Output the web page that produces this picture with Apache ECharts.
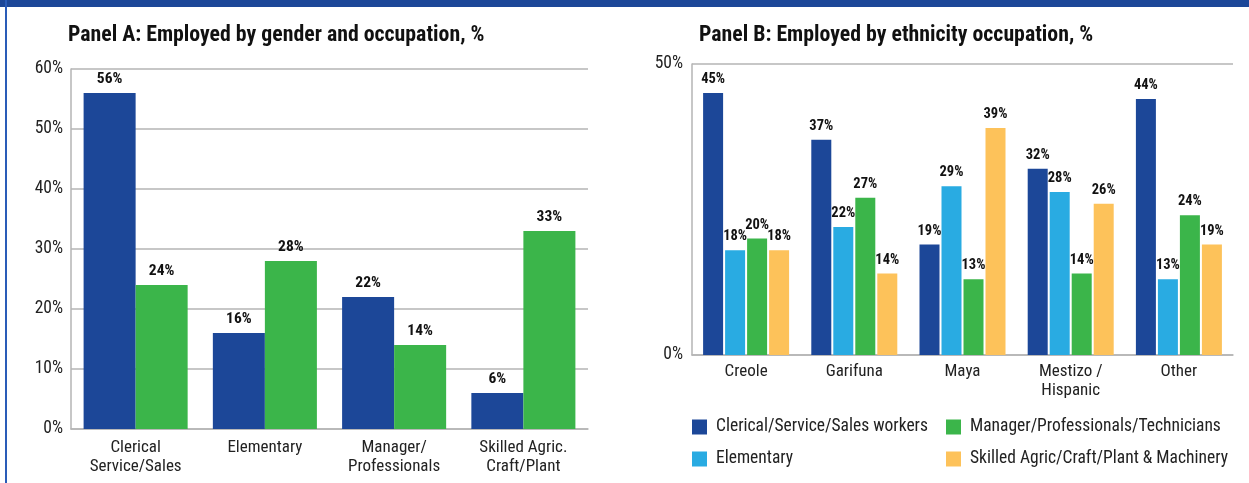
<!DOCTYPE html>
<html>
<head>
<meta charset="utf-8">
<script src="https://cdn.jsdelivr.net/npm/echarts@6/dist/echarts.min.js"></script>
<style>
  html, body { margin: 0; padding: 0; background: #fff; }
  #chart { width: 1249px; height: 483px; }
</style>
</head>
<body>
<div id="chart"></div>
<script>
// Panel A: employed by gender and occupation
const genderCategories = ['Clerical\nService/Sales', 'Elementary', 'Manager/\nProfessionals', 'Skilled Agric.\nCraft/Plant'];
const womenShare = [56, 16, 22, 6];
const menShare = [24, 28, 14, 33];
const genderTicks = [0, 10, 20, 30, 40, 50, 60];

// Panel B: employed by ethnicity and occupation
const ethnicCategories = ['Creole', 'Garifuna', 'Maya', 'Mestizo /\nHispanic', 'Other'];
const clericalShare = [45, 37, 19, 32, 44];
const elementaryShare = [18, 22, 29, 28, 13];
const managerShare = [20, 27, 13, 14, 24];
const skilledShare = [18, 14, 39, 26, 19];
const ethnicTicks = [0, 50];

const FONT = '"Liberation Sans Narrow", "Roboto Condensed", "Arial Narrow", sans-serif';
const C_DARK = '#1c4798';
const C_GREEN = '#3bb54a';
const C_LIGHT = '#29abe2';
const C_YELLOW = '#fdc25a';
const GRID_GREY = '#b5b5b5';

const valueLabel = (size) => ({
  show: true,
  position: 'top',
  distance: 6,
  formatter: '{c}%',
  fontFamily: FONT,
  fontWeight: 'bold',
  fontSize: size,
  color: '#111'
});

const legendText = { fontFamily: FONT, fontSize: 17.5, color: '#222', padding: [0, 0, 0, 4] };

const chart = echarts.init(document.getElementById('chart'), null, { renderer: 'canvas' });

chart.setOption({
  animation: false,
  backgroundColor: '#ffffff',
  textStyle: { fontFamily: FONT },
  title: [
    {
      text: 'Panel A: Employed by gender and occupation, %',
      left: 68, top: 25, padding: 0,
      textStyle: { fontFamily: FONT, fontWeight: 'bold', fontSize: 21.8, color: '#111' }
    },
    {
      text: 'Panel B: Employed by ethnicity occupation, %',
      left: 699, top: 25, padding: 0,
      textStyle: { fontFamily: FONT, fontWeight: 'bold', fontSize: 21.8, color: '#111' }
    }
  ],
  graphic: [
    { type: 'rect', shape: { x: 0, y: 0, width: 1249, height: 7 }, style: { fill: '#1c4798' }, silent: true },
    { type: 'rect', shape: { x: 5, y: 0, width: 2, height: 483 }, style: { fill: '#2a5cb8' }, silent: true }
  ],
  legend: [
    {
      data: ['Clerical/Service/Sales workers', 'Elementary'],
      orient: 'vertical',
      left: 692, top: 418, padding: 0,
      itemWidth: 15, itemHeight: 15, itemGap: 14,
      icon: 'rect',
      textStyle: legendText
    },
    {
      data: ['Manager/Professionals/Technicians', 'Skilled Agric/Craft/Plant & Machinery'],
      orient: 'vertical',
      left: 946, top: 418, padding: 0,
      itemWidth: 15, itemHeight: 15, itemGap: 14,
      icon: 'rect',
      textStyle: legendText
    }
  ],
  grid: [
    { left: 71, right: 1249 - 588, top: 69, bottom: 483 - 429, containLabel: false },
    { left: 692, right: 1249 - 1233, top: 64, bottom: 483 - 355, containLabel: false }
  ],
  xAxis: [
    {
      type: 'category', gridIndex: 0, data: genderCategories,
      axisLine: { show: true, lineStyle: { color: GRID_GREY, width: 1.5 } },
      axisTick: { show: false },
      axisLabel: { fontFamily: FONT, fontSize: 17, color: '#222', margin: 9, lineHeight: 19 }
    },
    {
      type: 'category', gridIndex: 1, data: ethnicCategories,
      axisLine: { show: true, lineStyle: { color: GRID_GREY, width: 1.5 } },
      axisTick: { show: false },
      axisLabel: { fontFamily: FONT, fontSize: 17, color: '#222', margin: 7, lineHeight: 19 }
    }
  ],
  yAxis: [
    {
      type: 'value', gridIndex: 0,
      min: genderTicks[0], max: genderTicks[genderTicks.length - 1], interval: genderTicks[1] - genderTicks[0],
      axisLine: { show: true, lineStyle: { color: GRID_GREY, width: 1.5 } },
      axisTick: { show: false },
      splitLine: { show: true, lineStyle: { color: GRID_GREY, width: 1.5 } },
      axisLabel: { fontFamily: FONT, fontSize: 17.5, color: '#222', margin: 8, formatter: '{value}%' }
    },
    {
      type: 'value', gridIndex: 1,
      min: ethnicTicks[0], max: ethnicTicks[ethnicTicks.length - 1], interval: ethnicTicks[1] - ethnicTicks[0],
      axisLine: { show: true, lineStyle: { color: GRID_GREY, width: 1.5 } },
      axisTick: { show: false },
      splitLine: { show: true, lineStyle: { color: GRID_GREY, width: 1.5 } },
      axisLabel: { fontFamily: FONT, fontSize: 17.5, color: '#222', margin: 9, formatter: '{value}%' }
    }
  ],
  series: [
    {
      name: 'Women', type: 'bar', xAxisIndex: 0, yAxisIndex: 0,
      data: womenShare, barGap: '0%', barCategoryGap: '19.5%',
      itemStyle: { color: C_DARK }, label: valueLabel(15.5)
    },
    {
      name: 'Men', type: 'bar', xAxisIndex: 0, yAxisIndex: 0,
      data: menShare, barGap: '0%', barCategoryGap: '19.5%',
      itemStyle: { color: C_GREEN }, label: valueLabel(15.5)
    },
    {
      name: 'Clerical/Service/Sales workers', type: 'bar', xAxisIndex: 1, yAxisIndex: 1,
      data: clericalShare, barWidth: 20, barGap: '10%',
      itemStyle: { color: C_DARK }, label: valueLabel(14.5)
    },
    {
      name: 'Elementary', type: 'bar', xAxisIndex: 1, yAxisIndex: 1,
      data: elementaryShare, barWidth: 20, barGap: '10%',
      itemStyle: { color: C_LIGHT }, label: valueLabel(14.5)
    },
    {
      name: 'Manager/Professionals/Technicians', type: 'bar', xAxisIndex: 1, yAxisIndex: 1,
      data: managerShare, barWidth: 20, barGap: '10%',
      itemStyle: { color: C_GREEN }, label: valueLabel(14.5)
    },
    {
      name: 'Skilled Agric/Craft/Plant & Machinery', type: 'bar', xAxisIndex: 1, yAxisIndex: 1,
      data: skilledShare, barWidth: 20, barGap: '10%',
      itemStyle: { color: C_YELLOW }, label: valueLabel(14.5)
    }
  ]
});
</script>
</body>
</html>
